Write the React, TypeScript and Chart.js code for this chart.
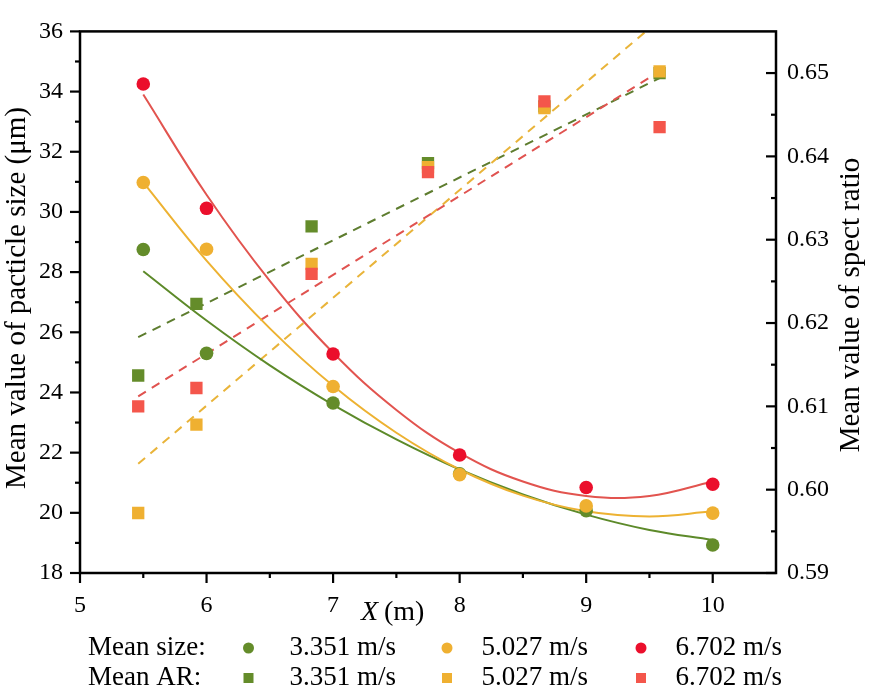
import React, { useEffect, useRef } from 'react';
import { Chart, registerables } from 'chart.js';

Chart.register(...registerables);

// ---- data ----
const sizeX = [5.5, 6, 7, 8, 9, 10];
const size3351 = [28.75, 25.3, 23.65, 21.3, 20.07, 18.93];
const size5027 = [30.98, 28.76, 24.2, 21.27, 20.23, 19.99];
const size6702 = [34.25, 30.12, 25.28, 21.92, 20.84, 20.95];

const arX = [5.46, 5.92, 6.83, 7.75, 8.67, 9.58];
const ar3351 = [0.6137, 0.6223, 0.6316, 0.6392, 0.646, 0.65];
const ar5027 = [0.5972, 0.6078, 0.6271, 0.6387, 0.6458, 0.6502];
const ar6702 = [0.61, 0.6122, 0.6259, 0.6381, 0.6466, 0.6435];

// fitted curves of mean size
const fitX = [5.5, 6, 6.5, 7, 7.5, 8, 8.5, 9, 9.5, 10];
const fit3351 = [28.03, 26.39, 24.9, 23.59, 22.44, 21.44, 20.61, 19.94, 19.43, 19.1];
const fit5027 = [30.98, 28.38, 26.13, 24.22, 22.66, 21.44, 20.57, 20.05, 19.88, 20.05];
const fit6702 = [33.9, 30.57, 27.71, 25.32, 23.42, 21.99, 21.04, 20.56, 20.56, 21.04];

// linear fits of mean AR (end points)
const arFitX = [5.46, 9.58];
const arFit3351 = [0.6183, 0.6494];
const arFit5027 = [0.6031, 0.6564];
const arFit6702 = [0.6112, 0.6502];

// ticks
const xTicks = [5, 6, 7, 8, 9, 10];
const xMinor = [5.5, 6.5, 7.5, 8.5, 9.5];
const yLeftTicks = [18, 20, 22, 24, 26, 28, 30, 32, 34, 36];
const yLeftMinor = [19, 21, 23, 25, 27, 29, 31, 33, 35];
const yRightTicks = [0.59, 0.6, 0.61, 0.62, 0.63, 0.64, 0.65];
const yRightMinor = [0.595, 0.605, 0.615, 0.625, 0.635, 0.645];

const seriesLabels = ['3.351 m/s', '5.027 m/s', '6.702 m/s'];

const GREEN = '#648C2A';
const YELLOW = '#EFB031';
const RED_C = '#EB0F2C';
const RED_S = '#F4564B';
const FONT = "'Liberation Serif', 'Times New Roman', serif";

Chart.defaults.font.family = FONT;
Chart.defaults.font.size = 24;
Chart.defaults.color = '#000';

const pts = (xs: number[], ys: number[]) => xs.map((x, i) => ({ x, y: ys[i] }));

const decor = {
  id: 'decor',
  afterDraw(chart: any) {
    const { ctx, chartArea: a, scales } = chart;
    const sx = scales.x, yl = scales.yL, yr = scales.yR;
    ctx.save();
    ctx.strokeStyle = '#000';
    ctx.lineWidth = 2.5;
    ctx.strokeRect(a.left, a.top, a.right - a.left, a.bottom - a.top);
    const line = (x1: number, y1: number, x2: number, y2: number) => {
      ctx.beginPath();
      ctx.moveTo(x1, y1);
      ctx.lineTo(x2, y2);
      ctx.stroke();
    };
    ctx.lineWidth = 2.2;
    xTicks.forEach((v) => { const p = sx.getPixelForValue(v); line(p, a.bottom, p, a.bottom + 10); });
    xMinor.forEach((v) => { const p = sx.getPixelForValue(v); line(p, a.bottom, p, a.bottom + 5); });
    yLeftTicks.forEach((v) => { const p = yl.getPixelForValue(v); line(a.left - 10, p, a.left, p); });
    yLeftMinor.forEach((v) => { const p = yl.getPixelForValue(v); line(a.left - 5, p, a.left, p); });
    yRightTicks.forEach((v) => { const p = yr.getPixelForValue(v); line(a.right - 10, p, a.right, p); });
    yRightMinor.forEach((v) => { const p = yr.getPixelForValue(v); line(a.right - 5, p, a.right, p); });

    ctx.fillStyle = '#000';
    ctx.textBaseline = 'middle';
    // axis titles
    ctx.font = `29px ${FONT}`;
    ctx.textAlign = 'center';
    ctx.save();
    ctx.translate(17, 298);
    ctx.rotate(-Math.PI / 2);
    ctx.fillText('Mean value of pacticle size (μm)', 0, 0);
    ctx.restore();
    ctx.save();
    ctx.translate(851, 305);
    ctx.rotate(-Math.PI / 2);
    ctx.fillText('Mean value of spect ratio', 0, 0);
    ctx.restore();

    // x title
    ctx.textAlign = 'left';
    ctx.font = `italic 28px ${FONT}`;
    ctx.fillText('X', 361, 613);
    ctx.font = `28px ${FONT}`;
    ctx.fillText('(m)', 384, 613);

    // legend
    const rows = [
      { title: 'Mean size:', y: 648, shape: 'circle', colors: [GREEN, YELLOW, RED_C] },
      { title: 'Mean AR:', y: 678, shape: 'rect', colors: [GREEN, YELLOW, RED_S] },
    ];
    const markerX = [248.5, 447, 641];
    const textX = [289.5, 481.5, 675.5];
    rows.forEach((r) => {
      ctx.font = `27px ${FONT}`;
      ctx.fillStyle = '#000';
      ctx.textAlign = 'left';
      ctx.fillText(r.title, 88, r.y);
      r.colors.forEach((c, i) => {
        ctx.fillStyle = c;
        if (r.shape === 'circle') {
          ctx.beginPath();
          ctx.arc(markerX[i], r.y, 5.5, 0, Math.PI * 2);
          ctx.fill();
        } else {
          ctx.fillRect(markerX[i] - 5, r.y - 5, 10, 10);
        }
        ctx.fillStyle = '#000';
        ctx.fillText(seriesLabels[i], textX[i], r.y);
      });
    });
    ctx.restore();
  },
};

export default function App() {
  const ref = useRef<HTMLCanvasElement | null>(null);
  useEffect(() => {
    if (!ref.current) return;
    const setTicks = (vals: number[]) => (scale: any) => {
      scale.ticks = vals.map((v) => ({ value: v }));
    };
    const tickFont = { family: FONT, size: 24 };
    const chart = new Chart(ref.current, {
      type: 'scatter',
      data: {
        datasets: [
          { label: 'size 6.702', data: pts(sizeX, size6702), yAxisID: 'yL', backgroundColor: RED_C, borderColor: RED_C, pointRadius: 6.8, pointBorderWidth: 0, order: 0 },
          { label: 'size 5.027', data: pts(sizeX, size5027), yAxisID: 'yL', backgroundColor: YELLOW, borderColor: YELLOW, pointRadius: 6.8, pointBorderWidth: 0, order: 1 },
          { label: 'size 3.351', data: pts(sizeX, size3351), yAxisID: 'yL', backgroundColor: GREEN, borderColor: GREEN, pointRadius: 6.8, pointBorderWidth: 0, order: 2 },
          { label: 'AR 6.702', data: pts(arX, ar6702), yAxisID: 'yR', backgroundColor: RED_S, borderColor: RED_S, pointStyle: 'rect', pointRadius: 8.7, pointBorderWidth: 0, order: 3 },
          { label: 'AR 5.027', data: pts(arX, ar5027), yAxisID: 'yR', backgroundColor: YELLOW, borderColor: YELLOW, pointStyle: 'rect', pointRadius: 8.7, pointBorderWidth: 0, order: 4 },
          { label: 'AR 3.351', data: pts(arX, ar3351), yAxisID: 'yR', backgroundColor: GREEN, borderColor: GREEN, pointStyle: 'rect', pointRadius: 8.7, pointBorderWidth: 0, order: 5 },
          { label: 'fit size 6.702', data: pts(fitX, fit6702), yAxisID: 'yL', showLine: true, borderColor: '#E2544F', borderWidth: 2, pointRadius: 0, tension: 0.4, order: 6 },
          { label: 'fit size 5.027', data: pts(fitX, fit5027), yAxisID: 'yL', showLine: true, borderColor: '#EDB232', borderWidth: 2, pointRadius: 0, tension: 0.4, order: 7 },
          { label: 'fit size 3.351', data: pts(fitX, fit3351), yAxisID: 'yL', showLine: true, borderColor: '#5D8A2A', borderWidth: 2, pointRadius: 0, tension: 0.4, order: 8 },
          { label: 'fit AR 6.702', data: pts(arFitX, arFit6702), yAxisID: 'yR', showLine: true, borderColor: '#E05350', borderWidth: 2, borderDash: [9, 7], pointRadius: 0, order: 9 },
          { label: 'fit AR 5.027', data: pts(arFitX, arFit5027), yAxisID: 'yR', showLine: true, borderColor: '#E9B43A', borderWidth: 2, borderDash: [9, 7], pointRadius: 0, order: 10 },
          { label: 'fit AR 3.351', data: pts(arFitX, arFit3351), yAxisID: 'yR', showLine: true, borderColor: '#5E7D2F', borderWidth: 2, borderDash: [9, 7], pointRadius: 0, order: 11 },
        ],
      },
      options: {
        animation: false,
        responsive: true,
        maintainAspectRatio: false,
        layout: { padding: { top: 13, left: 0, right: 0, bottom: 0 } },
        plugins: { legend: { display: false }, tooltip: { enabled: false } },
        scales: {
          x: {
            type: 'linear',
            min: 5,
            max: 10.5,
            grid: { display: false, drawTicks: false },
            border: { display: false },
            afterBuildTicks: setTicks(xTicks),
            afterFit: (s: any) => { s.height = 121; },
            ticks: { font: tickFont, color: '#000', padding: 18, maxRotation: 0 },
          },
          yL: {
            type: 'linear',
            position: 'left',
            min: 18,
            max: 36,
            grid: { display: false, drawTicks: false },
            border: { display: false },
            afterBuildTicks: setTicks(yLeftTicks),
            afterFit: (s: any) => { s.width = 80; },
            ticks: { font: tickFont, color: '#000', padding: 17 },
          },
          yR: {
            type: 'linear',
            position: 'right',
            min: 0.59,
            max: 0.655,
            grid: { display: false, drawTicks: false },
            border: { display: false },
            afterBuildTicks: setTicks(yRightTicks),
            afterFit: (s: any) => { s.width = 97; },
            ticks: { font: tickFont, color: '#000', padding: 11, callback: (v: any) => Number(v).toFixed(2) },
          },
        },
      },
      plugins: [decor],
    } as any);
    return () => chart.destroy();
  }, []);
  return (
    <div style={{ position: 'fixed', left: 0, top: 0, width: 873, height: 694, background: '#fff' }}>
      <canvas ref={ref} />
    </div>
  );
}
